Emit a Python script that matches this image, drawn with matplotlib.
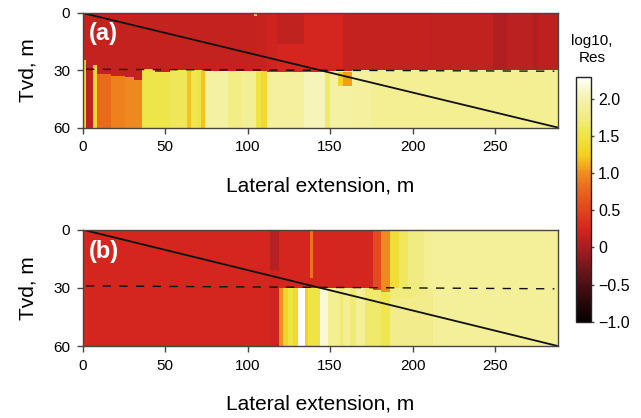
import numpy as np
import matplotlib
matplotlib.use("Agg")
import matplotlib.pyplot as plt
from matplotlib.colors import LinearSegmentedColormap, Normalize

plt.rcParams['font.family'] = ['Liberation Sans', 'DejaVu Sans']

# ---------- COLOUR SCALE ----------
vmin, vmax = -1.0, 2.3
scale_vals = [-1.0, -0.5, 0.0, 0.25, 0.5, 0.8, 1.0, 1.25, 1.5, 1.75, 2.0, 2.3]
scale_cols = ['#060000', '#4a1014', '#a81d21', '#d5261e', '#e2441d', '#ea6a1c',
              '#f08e1e', '#f5d020', '#eee444', '#f1ec80', '#f5f2aa', '#ffffff']

# ---------- PANEL (a) ----------
a_top_edges = [0, 105, 111, 118, 134, 150, 158, 210, 249, 257, 273, 276, 288]
a_top_vals = [0.16, 0.17, 0.2, 0.13, 0.25, 0.24, 0.16, 0.14, 0.05, 0.1, 0.05, 0.11]
a_low_edges = [0, 1.8, 6.5, 8.5, 17, 25.7, 31, 36, 44, 53, 60.6, 63, 65.5, 69, 72, 74,
               88, 96, 105, 108, 111.5, 134, 147, 150, 163, 175, 288]
a_low_vals = [1.3, 0.14, 1.3, 0.8, 0.93, 0.97, 0.98, 1.52, 1.52, 1.58, 1.58, 1.2, 1.55, 1.5,
              1.2, 1.95, 1.78, 1.88, 1.5, 1.35, 1.92, 2.05, 1.65, 1.95, 1.92, 1.85]
a_low_depth = [24.6, 24.6, 27, 32, 33, 33.5, 35, 29.6, 31, 30, 30, 30, 30, 30, 30, 30.5,
               30.5, 30.5, 30.5, 30.5, 31, 31, 30.5, 30.5, 30, 30]
a_patches = [(118, 134, 16, 31, 0.24), (104, 105.5, 0, 1.5, 1.3),
             (155, 158, 31, 38, 1.3), (158, 163, 31, 38, 1.05)]
a_dash = [29.5, 30.5]

# ---------- PANEL (b) ----------
b_top_edges = [0, 113.5, 119, 137.8, 139.4, 176, 181, 186.6, 192, 197, 207, 212, 288]
b_top_vals = [0.25, 0.2, 0.25, 0.25, 0.25, 0.55, 0.98, 1.4, 1.6, 1.75, 1.85, 1.9]
b_low_edges = [0, 113.5, 119, 121.6, 124.6, 127.7, 130.7, 134.7, 136.8, 143.8, 149, 156, 158,
               162, 166, 171, 181, 186.6, 212.5, 288]
b_low_vals = [0.25, 0.2, 1.0, 1.3, 1.5, 1.35, 2.3, 1.25, 1.5, 2.15, 1.85, 1.7, 1.85, 1.7,
              1.9, 1.65, 1.55, 1.8, 1.9]
b_low_depth = [30] * 19
b_patches = [(113.5, 119, 0, 20.8, 0.08), (137.8, 139.4, 0, 25, 0.85),
             (176, 181, 30, 31, 0.55), (181, 186.6, 30, 32, 0.98),
             (186.6, 193, 30, 36, 1.72), (193, 200, 30, 35, 1.72), (200, 207, 30, 34, 1.75)]
b_dash = [29, 30.5]

x_ticks = [0, 50, 100, 150, 200, 250]
y_ticks = [0, 30, 60]
cbar_ticks = [-1.0, -0.5, 0, 0.5, 1.0, 1.5, 2.0]
cbar_labels = ['\u22121.0', '\u22120.5', '0', '0.5', '1.0', '1.5', '2.0']
line_x = [0, 288]
line_y = [0, 60]
edge_col = '#4a4540'

cmap = LinearSegmentedColormap.from_list(
    'res', [((v - vmin) / (vmax - vmin), c) for v, c in zip(scale_vals, scale_cols)])
norm = Normalize(vmin, vmax)

W, H = 641, 418
fig = plt.figure(figsize=(W / 100, H / 100), dpi=100)


def px_axes(left, top, right, bottom):
    return fig.add_axes([left / W, 1 - bottom / H, (right - left) / W, (bottom - top) / H])


# ---------- SECTION GRID ----------
def section(top_edges, top_vals, low_edges, low_vals, low_depth, patches):
    xs = np.arange(0, 288.01, 0.25)
    ys = np.arange(0, 60.01, 0.25)
    xc = (xs[:-1] + xs[1:]) / 2
    yc = (ys[:-1] + ys[1:]) / 2
    grid = np.zeros((len(yc), len(xc)))
    for i in range(len(top_vals)):
        grid[:, (xc >= top_edges[i]) & (xc < top_edges[i + 1])] = top_vals[i]
    for i in range(len(low_vals)):
        col = (xc >= low_edges[i]) & (xc < low_edges[i + 1])
        grid[np.ix_(yc >= low_depth[i], col)] = low_vals[i]
    for x0, x1, d0, d1, v in patches:
        grid[np.ix_((yc >= d0) & (yc < d1), (xc >= x0) & (xc < x1))] = v
    return xs, ys, grid


def draw_panel(ax, tag, grid_parts, dash):
    xs, ys, grid = section(*grid_parts)
    ax.pcolormesh(xs, ys, grid, cmap=cmap, norm=norm, rasterized=True)
    ax.plot(line_x, line_y, color='#111111', lw=1.3)
    ax.plot([2, 286], dash, color='#111111', lw=1.0, dashes=(6, 6))
    ax.set_xlim(0, 288)
    ax.set_ylim(60, 0)
    ax.set_xticks(x_ticks)
    ax.set_yticks(y_ticks)
    ax.tick_params(length=4, width=1, color=edge_col, labelsize=11, pad=5)
    for s in ax.spines.values():
        s.set_color(edge_col)
        s.set_linewidth(1.0)
    ax.set_ylabel('Tvd, m', fontsize=15, labelpad=11)
    ax.set_xlabel('Lateral extension, m', fontsize=15, labelpad=16)
    ax.text(3.5, 11, tag, color='white', fontsize=17, fontweight='bold', va='center')


ax_a = px_axes(82.7, 13, 557.7, 127.5)
draw_panel(ax_a, '(a)', (a_top_edges, a_top_vals, a_low_edges, a_low_vals, a_low_depth, a_patches), a_dash)
ax_b = px_axes(82.7, 229.7, 557.7, 346)
draw_panel(ax_b, '(b)', (b_top_edges, b_top_vals, b_low_edges, b_low_vals, b_low_depth, b_patches), b_dash)

# ---------- COLOUR BAR ----------
cax = px_axes(575.7, 76.7, 591, 321.7)
sm = plt.cm.ScalarMappable(norm=norm, cmap=cmap)
cb = fig.colorbar(sm, cax=cax)
cb.set_ticks(cbar_ticks)
cb.set_ticklabels(cbar_labels)
cb.ax.tick_params(length=2, width=1, labelsize=11.5, pad=3, color=edge_col)
cb.outline.set_edgecolor('#222222')
cb.outline.set_linewidth(1.0)
fig.text(592 / W, 1 - 49.5 / H, 'log10,\nRes', ha='center', va='center', fontsize=11, linespacing=1.2)

fig.savefig('out.png', dpi=100)
